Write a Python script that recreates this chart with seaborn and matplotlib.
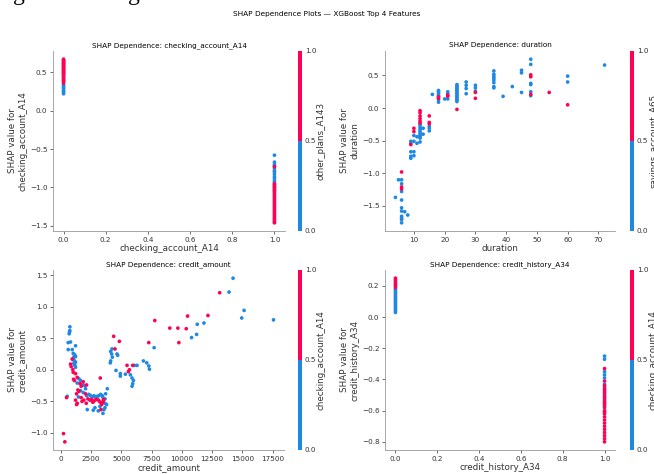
import numpy as np
import pandas as pd
import matplotlib
matplotlib.use("Agg")
import matplotlib.pyplot as plt
from matplotlib.colors import ListedColormap, Normalize
from matplotlib.cm import ScalarMappable
import seaborn as sns

BLUE = "#1E88E5"
RED = "#FF0052"

# ---------------- data ----------------
# Panel 1: checking_account_A14 (colour: other_plans_A143)
ca_at0_blue = [0.22, 0.24, 0.25, 0.27, 0.29, 0.31, 0.32, 0.34, 0.43, 0.45]
ca_at0_red = [0.36, 0.38, 0.39, 0.40, 0.41, 0.43, 0.46, 0.47, 0.48, 0.49, 0.50, 0.51, 0.52, 0.53,
              0.54, 0.55, 0.56, 0.57, 0.58, 0.59, 0.60, 0.61, 0.62, 0.63, 0.64, 0.65, 0.66, 0.67]
ca_at1_blue = [-0.58, -0.67, -0.70, -0.72, -0.75, -0.78, -0.80, -0.83, -0.86, -0.88, -0.91, -0.93,
               -0.96, -1.00, -1.04]
ca_at1_red = [-0.73, -0.95, -0.97, -0.99, -1.01, -1.03, -1.05, -1.07, -1.09, -1.11, -1.13, -1.15,
              -1.17, -1.19, -1.21, -1.23, -1.25, -1.27, -1.29, -1.31, -1.33, -1.35, -1.37, -1.39,
              -1.41, -1.43, -1.45, -1.46]

# Panel 2: duration (colour: savings_account_A65)
dur_blue_x = [4, 5, 6, 6, 6, 6, 6, 6, 6, 6, 6, 6, 7, 8,
              9, 9, 9, 9, 9, 10, 10, 10, 10, 11, 11,
              12, 12, 12, 12, 12, 12, 12, 12, 12, 12, 13, 13, 15, 15, 15, 16,
              18, 18, 18, 18, 18, 18, 18, 20, 21, 21, 21,
              24, 24, 24, 24, 24, 24, 24, 24, 24, 24, 24, 24, 24, 24,
              27, 27, 27, 27, 30, 30, 30,
              36, 36, 36, 36, 36, 36, 36, 36, 39, 42, 45, 45, 45,
              48, 48, 48, 48, 48, 48, 60, 60, 72]
dur_blue_y = [-1.37, -1.10, -1.10, -1.16, -1.28, -1.41, -1.53, -1.58, -1.66, -1.69, -1.71, -1.76, -1.59, -1.64,
              -0.51, -0.54, -0.67, -0.74, -0.77, -0.42, -0.51, -0.67, -0.73, -0.44, -0.54,
              -0.24, -0.27, -0.30, -0.33, -0.36, -0.39, -0.42, -0.44, -0.46, -0.52, -0.31, -0.40,
              -0.28, -0.31, -0.35, 0.21,
              0.27, 0.25, 0.23, 0.20, 0.18, 0.13, 0.09, 0.14, 0.25, 0.22, 0.14,
              0.36, 0.34, 0.32, 0.30, 0.28, 0.26, 0.24, 0.22, 0.20, 0.18, 0.16, 0.14, 0.12, 0.10,
              0.40, 0.35, 0.30, 0.22, 0.35, 0.31, 0.26,
              0.57, 0.52, 0.49, 0.46, 0.43, 0.39, 0.33, 0.31, 0.18, 0.33, 0.58, 0.54, 0.24,
              0.75, 0.67, 0.38, 0.36, 0.25, 0.19, 0.49, 0.40, 0.66]
dur_red_x = [6, 6, 6, 9, 10, 10, 12, 12, 12, 12, 12, 12, 15, 15, 15, 18, 18, 21, 21, 24, 30, 30,
             48, 48, 48, 54, 60]
dur_red_y = [-0.98, -1.21, -1.24, -0.56, -0.31, -0.36, -0.04, -0.07, -0.12, -0.16, -0.20, -0.23,
             -0.12, -0.22, -0.24, 0.17, 0.15, 0.20, 0.18, -0.02, 0.24, 0.15,
             0.51, 0.48, 0.21, 0.24, 0.05]

# Panel 3: credit_amount (colour: checking_account_A14)
cr_blue_x = [746, 746, 690, 718, 801, 608, 608, 939, 1215,
             1022, 1132, 1077, 1215, 1022, 1132, 1215, 1077, 1160, 1215, 1050, 1180,
             1491, 1630, 1353, 1850, 1989, 2044, 1630, 1850, 1450,
             525, 2127, 2320, 2458, 2596, 2734, 2872, 3010, 3148, 3286, 3424, 3701, 3839, 3650, 3480,
             3646, 2182, 2679, 2817, 3093, 3231, 3480, 3646, 3784, 3562,
             4116, 4199, 4254, 4116, 4226, 4640, 4695, 4088, 4557, 4916, 4916, 5331, 5745, 5883,
             5993, 5938, 5883, 6076, 6297, 6822, 7098, 7264, 7319, 7706,
             10799, 11214, 11269, 11821, 13893, 14224, 14942, 15136, 17566]
cr_blue_y = [0.68, 0.62, 0.57, 0.60, 0.44, 0.43, 0.32, 0.32, 0.38,
             0.26, 0.24, 0.20, 0.21, 0.16, 0.14, 0.12, 0.10, 0.07, 0.04, 0.18, 0.22,
             -0.14, -0.17, -0.21, -0.24, -0.25, -0.30, -0.33, -0.36, -0.43,
             -0.42, -0.41, -0.39, -0.41, -0.43, -0.41, -0.43, -0.42, -0.41, -0.39, -0.41, -0.38, -0.30, -0.46, -0.44,
             -0.53, -0.63, -0.64, -0.60, -0.65, -0.58, -0.69, -0.60, -0.55, -0.63,
             0.29, 0.25, 0.20, 0.14, 0.33, 0.25, 0.23, 0.11, -0.01, -0.06, -0.10, -0.07, -0.08, -0.13,
             -0.17, -0.22, -0.26, 0.07, 0.07, 0.14, 0.11, 0.06, 0.01, 0.35,
             0.51, 0.56, 0.72, 0.74, 1.23, 1.45, 0.82, 0.94, 0.79]
cr_red_x = [221, 331, 470, 939, 801, 856, 994, 1022, 1215, 1353, 1132, 1050, 1850, 1600, 1685, 2127,
            1409, 1491, 2044, 1300, 1685, 1215, 1353, 1300, 2237, 2403, 2541, 2679, 2817, 2955,
            3231, 3369, 3508, 1900, 2100, 1750, 3259, 3314, 3453, 3535, 3121, 2624,
            4364, 4474, 4834, 5469, 5662, 5580, 5938, 7264, 7761, 9004, 9667, 9750, 10358, 10468,
            12153, 13120]
cr_red_y = [-1.01, -1.14, -0.44, 0.17, 0.09, 0.05, 0.00, -0.04, -0.06, -0.12, -0.17, -0.15, -0.19, -0.22, -0.26, -0.24,
            -0.32, -0.34, -0.38, -0.38, -0.44, -0.48, -0.53, -0.55, -0.46, -0.48, -0.47, -0.51, -0.48, -0.47,
            -0.51, -0.55, -0.49, -0.48, -0.53, -0.50, -0.13, -0.63, -0.52, -0.47, -0.48, -0.51,
            0.53, 0.33, 0.45, 0.07, 0.00, -0.03, 0.07, 0.43, 0.78, 0.66, 0.66, 0.43, 0.65, 0.85,
            0.86, 1.22]

# Panel 4: credit_history_A34 (colour: checking_account_A14)
ch_at0_blue = [0.03, 0.04, 0.05, 0.06, 0.07, 0.08, 0.09, 0.10, 0.11, 0.12, 0.13, 0.14, 0.15, 0.16, 0.17, 0.18]
ch_at0_red = [0.19, 0.20, 0.21, 0.22, 0.23, 0.24, 0.25]
ch_at1_blue = [-0.25, -0.27, -0.35, -0.37, -0.39, -0.43, -0.45, -0.48, -0.50, -0.53, -0.57]
ch_at1_red = [-0.33, -0.41, -0.44, -0.46, -0.47, -0.49, -0.51, -0.52, -0.54, -0.55, -0.56, -0.58,
              -0.60, -0.61, -0.62, -0.64, -0.66, -0.68, -0.70, -0.72, -0.74, -0.76, -0.78, -0.80]

panel_titles = ["SHAP Dependence: checking_account_A14", "SHAP Dependence: duration",
                "SHAP Dependence: credit_amount", "SHAP Dependence: credit_history_A34"]
feature_names = ["checking_account_A14", "duration", "credit_amount", "credit_history_A34"]
color_features = ["other_plans_A143", "savings_account_A65", "checking_account_A14", "checking_account_A14"]
suptitle = "SHAP Dependence Plots \u2014 XGBoost Top 4 Features"


def binary_frame(at0_blue, at0_red, at1_blue, at1_red):
    xs = [0.0] * len(at0_blue) + [0.0] * len(at0_red) + [1.0] * len(at1_blue) + [1.0] * len(at1_red)
    ys = list(at0_blue) + list(at0_red) + list(at1_blue) + list(at1_red)
    cs = [0] * len(at0_blue) + [1] * len(at0_red) + [0] * len(at1_blue) + [1] * len(at1_red)
    return pd.DataFrame({"x": xs, "y": ys, "c": cs})


def cont_frame(bx, by, rx, ry):
    return pd.DataFrame({"x": list(bx) + list(rx), "y": list(by) + list(ry),
                         "c": [0] * len(bx) + [1] * len(rx)})


frames = [
    binary_frame(ca_at0_blue, ca_at0_red, ca_at1_blue, ca_at1_red),
    cont_frame(dur_blue_x, dur_blue_y, dur_red_x, dur_red_y),
    cont_frame(cr_blue_x, cr_blue_y, cr_red_x, cr_red_y),
    binary_frame(ch_at0_blue, ch_at0_red, ch_at1_blue, ch_at1_red),
]

# ---------------- figure ----------------
W, H = 654, 474
fig = plt.figure(figsize=(W / 100, H / 100), dpi=100)

def px_axes(x0, y0, x1, y1):
    return fig.add_axes([x0 / W, 1 - y1 / H, (x1 - x0) / W, (y1 - y0) / H])

ax_boxes = [(53, 51, 285, 231), (385, 51, 615, 231), (53, 270, 284, 450), (385, 270, 615, 450)]
cb_boxes = [(298, 51, 302, 231), (630, 51, 634, 231), (298, 270, 302, 450), (630, 270, 634, 450)]

GRAY = "#333333"
cmap = ListedColormap([BLUE, RED])
TICK_FS = 5.2
LABEL_FS = 6.3
TITLE_FS = 5.2

for i in range(4):
    ax = px_axes(*ax_boxes[i])
    df = frames[i]
    sns.scatterplot(data=df, x="x", y="y", hue="c", palette={0: BLUE, 1: RED},
                    s=7, linewidth=0, legend=False, ax=ax, rasterized=True)
    ax.set_xlabel(feature_names[i], fontsize=LABEL_FS, color=GRAY, labelpad=1)
    ax.set_ylabel("SHAP value for\n" + feature_names[i], fontsize=LABEL_FS, color=GRAY, labelpad=2)
    ax.set_title(panel_titles[i], fontsize=TITLE_FS, pad=3)
    for side in ["top", "right"]:
        ax.spines[side].set_visible(False)
    for side in ["left", "bottom"]:
        ax.spines[side].set_color("#999999")
        ax.spines[side].set_linewidth(0.6)
    ax.tick_params(labelsize=TICK_FS, colors=GRAY, length=2, width=0.5, pad=2)
    if i in (0, 3):
        ax.set_xticks([0.0, 0.2, 0.4, 0.6, 0.8, 1.0])
    if i == 2:
        ax.set_xticks([0, 2500, 5000, 7500, 10000, 12500, 15000, 17500])

    cax = px_axes(*cb_boxes[i])
    cb = fig.colorbar(ScalarMappable(norm=Normalize(0, 1), cmap=cmap), cax=cax)
    cb.outline.set_visible(False)
    cb.set_ticks([0.0, 0.5, 1.0])
    cb.ax.tick_params(labelsize=TICK_FS, length=0, pad=2, colors=GRAY)
    cb.set_label(color_features[i], fontsize=LABEL_FS, color=GRAY, labelpad=0.5)

fig.suptitle(suptitle, fontsize=5.3, y=1 - 14 / H, va="center")

# cropped caption glyphs at the very top edge
fig.text(13 / W, 1.0, "g", fontsize=17, family="Liberation Serif", va="baseline")
fig.text(128 / W, 1.0, "g", fontsize=17, family="Liberation Serif", va="baseline")

fig.savefig("out.png", dpi=100)
